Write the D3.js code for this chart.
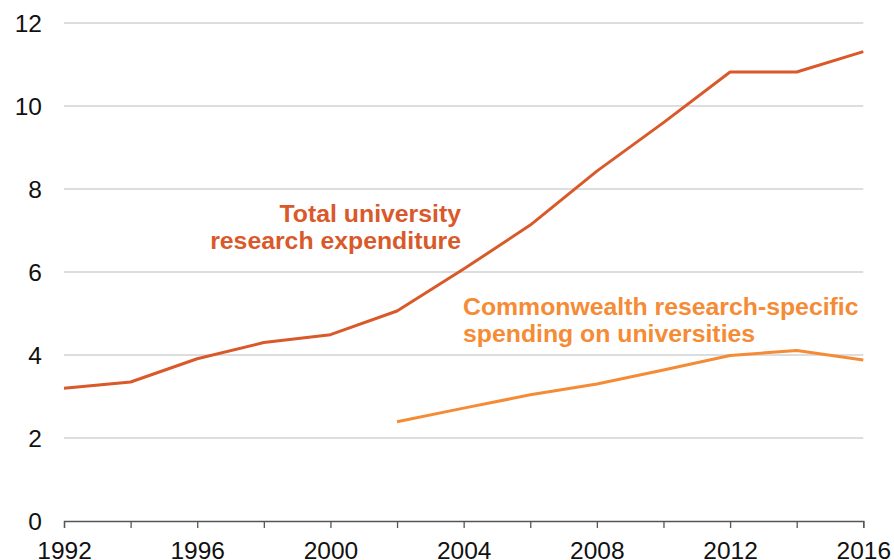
<!DOCTYPE html>
<html><head><meta charset="utf-8">
<script src="https://cdn.jsdelivr.net/npm/d3@7"></script>
<style>body{margin:0;background:#fff}svg{display:block}</style>
</head><body>
<svg id="chart" width="894" height="560"></svg>
<script>
const years = [1992,1994,1996,1998,2000,2002,2004,2006,2008,2010,2012,2014,2016];
const totalExpenditure = [3.20,3.35,3.91,4.30,4.49,5.06,6.07,7.13,8.43,9.60,10.82,10.82,11.31];
const cwYears = [2002,2004,2006,2008,2010,2012,2014,2016];
const cwSpending = [2.39,2.72,3.04,3.30,3.64,3.99,4.11,3.88];
const yTicks = [0,2,4,6,8,10,12];
const xLabelYears = [1992,1996,2000,2004,2008,2012,2016];

const svg = d3.select("#chart");
const x = d3.scaleLinear().domain([1992,2016]).range([64,863.3]);
const y = d3.scaleLinear().domain([0,12]).range([521,23]);
const font = "Liberation Sans, Arial, sans-serif";

// gridlines
svg.append("g").selectAll("line").data(yTicks.filter(d=>d>0)).join("line")
  .attr("x1",64).attr("x2",863.3).attr("y1",d=>y(d)).attr("y2",d=>y(d))
  .attr("stroke","#b7bbbf").attr("stroke-width",1.2);

// y labels
svg.append("g").selectAll("text").data(yTicks).join("text")
  .attr("x",42).attr("y",d=>y(d)+8.5).attr("text-anchor","end")
  .attr("font-family",font).attr("font-size",24.5).attr("fill","#111").text(d=>d);

// x axis
const xAxis = d3.axisBottom(x).tickValues(years).tickSize(7).tickFormat(d=>xLabelYears.includes(d)?d:"");
const gx = svg.append("g").attr("transform",`translate(0,${y(0)})`).call(xAxis);
gx.select(".domain").attr("stroke","#555").attr("stroke-width",1.3);
gx.selectAll(".tick line").attr("stroke","#555").attr("stroke-width",1.3);
gx.selectAll(".tick text").attr("font-family",font).attr("font-size",24.5).attr("fill","#111").attr("dy",0).attr("y",37.5);

const line = d3.line().x(d=>x(d[0])).y(d=>y(d[1]));
svg.append("path").datum(years.map((d,i)=>[d,totalExpenditure[i]]))
  .attr("d",line).attr("fill","none").attr("stroke","#d9592a").attr("stroke-width",3).attr("stroke-linejoin","round");
svg.append("path").datum(cwYears.map((d,i)=>[d,cwSpending[i]]))
  .attr("d",line).attr("fill","none").attr("stroke","#f58b35").attr("stroke-width",3).attr("stroke-linejoin","round");

const t1 = svg.append("text").attr("font-family",font).attr("font-size",24.8).attr("font-weight","bold").attr("fill","#d9592a").attr("text-anchor","end");
t1.append("tspan").attr("x",461).attr("y",222).text("Total university");
t1.append("tspan").attr("x",461).attr("y",248.5).text("research expenditure");
const t2 = svg.append("text").attr("font-family",font).attr("font-size",24.8).attr("font-weight","bold").attr("fill","#f58b35");
t2.append("tspan").attr("x",463).attr("y",315).text("Commonwealth research-specific");
t2.append("tspan").attr("x",463).attr("y",341.5).text("spending on universities");
</script>
</body></html>
